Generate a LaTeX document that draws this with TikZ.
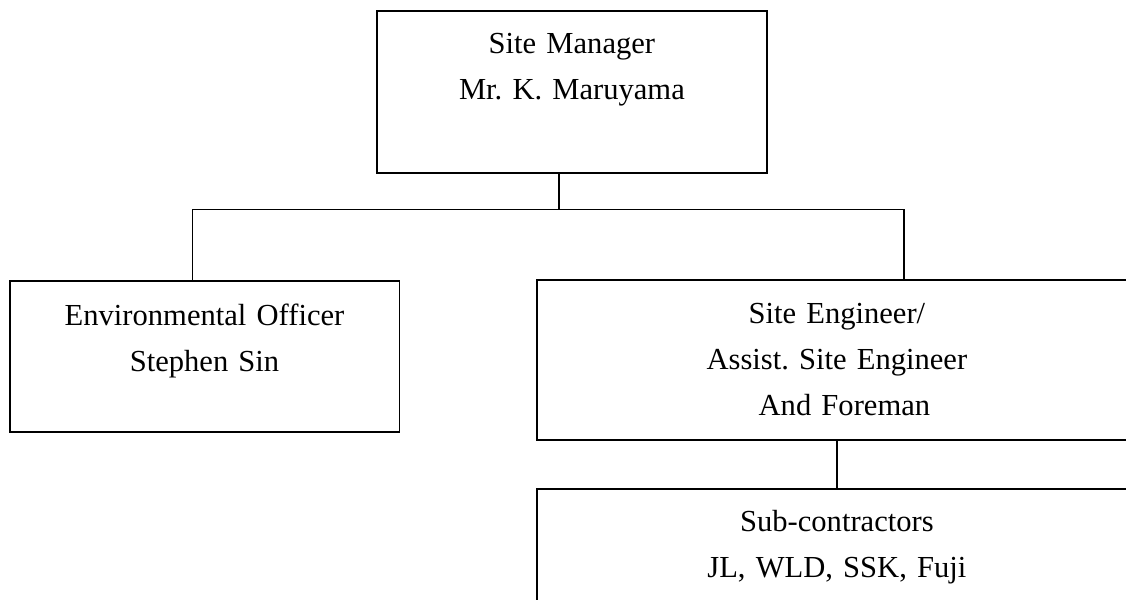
\documentclass[tikz,border=0pt]{standalone}
\usepackage{fontspec}
\setmainfont{Liberation Serif}

\tikzset{
  orgbox/.style={draw, line width=1.1pt, inner sep=0pt, align=center,
    anchor=north west, font=\fontsize{17.4pt}{26.1pt}\selectfont\frenchspacing},
  orgline/.style={line width=1.1pt}
}

\begin{document}
\begin{tikzpicture}[x=0.02cm, y=-0.02cm]

\clip (0,0) rectangle (1126,599); % Page area

% Boxes
\node[orgbox, text width=7.8cm, text height=0.86cm, text depth=2.38cm] (manager) at (376,10) {Site Manager\\Mr. K. Maruyama}; % Site manager
\node[orgbox, text width=7.8cm, text height=0.9cm, text depth=2.13cm] (envofficer) at (8.6,280) {Environmental Officer\\Stephen Sin}; % Environmental officer
\node[orgbox, text width=12cm, text height=0.88cm, text depth=2.33cm] (engineer) at (536,279) {Site Engineer/\\Assist. Site Engineer\\\hspace{0.3cm}And Foreman}; % Site engineer
\node[orgbox, text width=12cm, text height=0.86cm, text depth=2.34cm] (subcon) at (536,488) {Sub-contractors\\JL, WLD, SSK, Fuji}; % Sub-contractors

% Connectors
\coordinate (drop) at (559,209.5); % Under site manager
\coordinate (busL) at (192.5,209.5);
\coordinate (busR) at (904,209.5);
\draw[orgline] (manager.south -| drop) -- (drop);
\draw[orgline] (busL |- envofficer.north) -- (busL) -- (busR) -- (busR |- engineer.north);
\draw[orgline] (engineer.south) -- (subcon.north);

\end{tikzpicture}
\end{document}
